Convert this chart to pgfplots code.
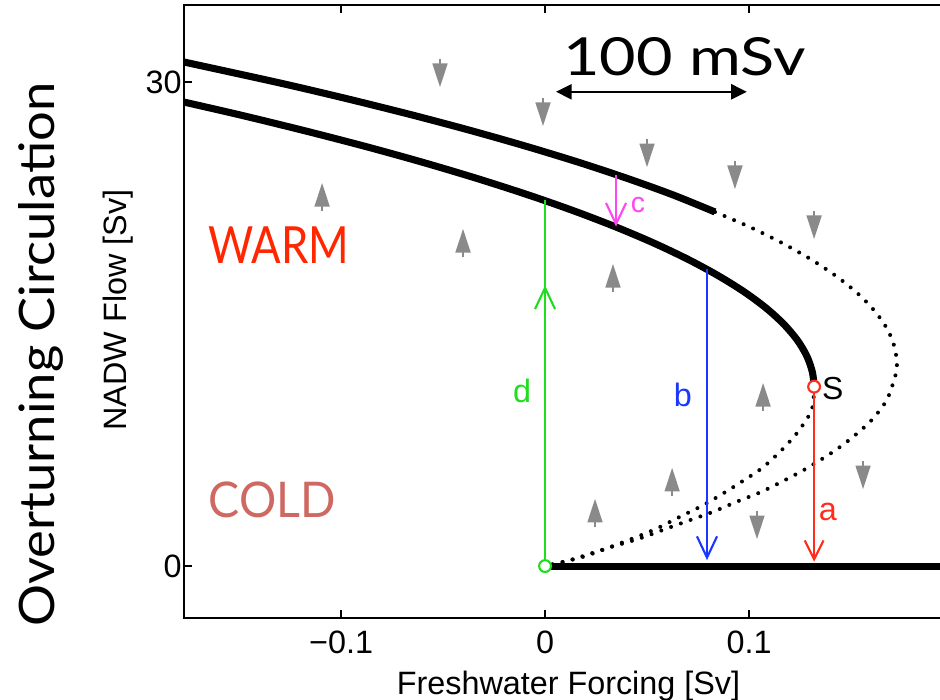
\documentclass[border=0pt]{standalone}
\usepackage{fontspec}
\setmainfont{Liberation Sans}
\newfontfamily\ovfont{Lato}
\usepackage{graphicx}
\usepackage{pgfplots}
\pgfplotsset{compat=1.18}
\usetikzlibrary{arrows.meta}
\definecolor{cgreen}{RGB}{30,222,30}
\definecolor{cblue}{RGB}{25,55,255}
\definecolor{cred}{RGB}{255,45,25}
\definecolor{cmag}{RGB}{255,70,240}
\definecolor{warmred}{RGB}{255,38,0}
\definecolor{coldred}{RGB}{207,104,98}
\definecolor{cgray}{RGB}{138,138,138}
\begin{document}
\begin{tikzpicture}
\begin{axis}[
  scale only axis, width=325.75pt, height=259.67pt,
  xmin=-0.177, xmax=0.2, ymin=-3.22, ymax=34.78,
  xtick={-0.1,0,0.1}, xticklabels={−0.1,0,0.1},
  ytick={0,30}, yticklabels={0,30},
  tick align=inside, major tick length=3.4pt,
  axis line style={line width=0.8pt},
  every tick/.style={black, line width=0.8pt},
  tick label style={font=\fontsize{13.7}{16}\selectfont},
  xticklabel style={yshift=-2pt},
  yticklabel style={xshift=2.5pt},
  xlabel={Freshwater Forcing [Sv]}, ylabel={NADW Flow [Sv]},
  label style={font=\fontsize{13.7}{16}\selectfont},
  xlabel style={at={(rel axis cs:0.5,-0.124)}, anchor=base},
  ylabel style={at={(rel axis cs:-0.0754,0.5024)}, anchor=base},
  clip mode=individual,
]
% upper branch (solid, stable)
\addplot[black, line width=3pt, smooth] coordinates {
(-0.1863,31.5) (-0.1319,30) (-0.0981,29) (-0.0663,28) (-0.0365,27) (-0.0087,26)
(0.0172,25) (0.0410,24) (0.0629,23) (0.0833,21.95)};
% lower branch (solid, stable) ending at S
\addplot[black, line width=3pt, smooth] coordinates {
(-0.1853,29) (-0.1507,28) (-0.1183,27) (-0.0877,26) (-0.0592,25) (-0.0327,24)
(-0.0081,23) (0.0145,22) (0.0351,21) (0.0537,20) (0.0703,19) (0.0849,18)
(0.0976,17) (0.1083,16) (0.1170,15) (0.1237,14) (0.1284,13) (0.1311,12) (0.1319,11.12)};
% off state
\addplot[black, line width=3pt] coordinates {(0,0) (0.2,0)};
% outer unstable branch (dotted)
\addplot[black, line width=1.7pt, dash pattern=on 0pt off 4.4pt, line cap=round, smooth] coordinates {
(0.0833,21.95) (0.1007,21) (0.1166,20) (0.1305,19) (0.1424,18) (0.1524,17) (0.1603,16)
(0.1663,15) (0.1703,14) (0.1722,13) (0.1725,12.4) (0.1716,11.74) (0.1675,10.29)
(0.1601,9.05) (0.1511,8.02) (0.1413,7.09) (0.1283,6.06) (0.1176,5.33) (0.1062,4.61)
(0.0940,3.99) (0.0825,3.37) (0.0711,2.85) (0.0597,2.33) (0.0466,1.72) (0.0302,1.10)
(0.0123,0.37) (0,0)};
% inner unstable branch (dotted)
\addplot[black, line width=1.7pt, dash pattern=on 0pt off 4.4pt, line cap=round, smooth] coordinates {
(0.1319,11.12) (0.1307,9.67) (0.1234,8.23) (0.1152,7.09) (0.1062,6.06) (0.0964,5.23)
(0.0874,4.51) (0.0776,3.78) (0.0662,3.06) (0.0531,2.23) (0.0368,1.41) (0.0188,0.58) (0,0)};
% grey direction arrows
\addplot[draw=cgray, line width=0.85pt, -{Triangle[length=10pt,width=6.3pt]},
  quiver={u=\thisrow{u}, v=\thisrow{v}}] table[x=x, y=y] {
x y u v
-0.0515 31.44 0 -1.75
-0.0010 29.03 0 -1.75
0.0500 26.48 0 -1.75
0.0931 25.12 0 -1.75
0.1319 22.02 0 -1.75
0.1039 3.42 0 -1.75
0.1559 6.52 0 -1.75
-0.1093 22.00 0 1.75
-0.0402 19.15 0 1.75
0.0333 16.98 0 1.75
0.1069 9.60 0 1.75
0.0623 4.34 0 1.75
0.0245 2.42 0 1.75
};
% transitions
\addplot[cgreen, line width=0.9pt] coordinates {(0,0) (0,22.7)};
\addplot[cgreen, line width=0.9pt, -{Straight Barb[length=9pt,width=8.5pt]}] coordinates {(0,0) (0,17.4)};
\addplot[cblue, line width=0.9pt, -{Straight Barb[length=9pt,width=8.5pt]}] coordinates {(0.0794,18.4) (0.0794,0.37)};
\addplot[cred, line width=0.9pt, -{Straight Barb[length=8pt,width=8pt]}] coordinates {(0.1319,11.12) (0.1319,0.27)};
\addplot[cmag, line width=0.9pt, -{Straight Barb[length=9pt,width=8.5pt]}] coordinates {(0.0348,24.27) (0.0348,21.04)};
\addplot[only marks, mark=*, mark size=2.5pt, mark options={fill=white, draw=cgreen, line width=0.9pt}] coordinates {(0,0)};
\addplot[only marks, mark=*, mark size=2.5pt, mark options={fill=white, draw=cred, line width=0.9pt}] coordinates {(0.1319,11.12)};
% scale bar
\addplot[black, line width=0.85pt, {Triangle[length=6.6pt,width=6.4pt]}-{Triangle[length=6.6pt,width=6.4pt]}] coordinates {(0.0054,29.4) (0.0989,29.4)};
% labels
\node[anchor=base west, inner sep=0] at (axis cs:0.0088,30.44) {\resizebox{102.5pt}{16.1pt}{\ovfont 100 mSv}};
\node[anchor=base west, inner sep=0, text=warmred] at (axis cs:-0.1653,18.77) {\resizebox{59.7pt}{15.55pt}{\ovfont WARM}};
\node[anchor=base west, inner sep=0, text=coldred] at (axis cs:-0.1652,3.0) {\resizebox{53.8pt}{15.1pt}{\ovfont COLD}};
\node[anchor=base west, inner sep=0, rotate=90] at (axis cs:-0.2407,-3.78) {\resizebox{230.4pt}{15.25pt}{\ovfont Overturning Circulation}};
\node[text=cgreen, font=\fontsize{13.7}{16}\selectfont, inner sep=0] at (axis cs:-0.0113,10.85) {d};
\node[text=cblue, font=\fontsize{13.7}{16}\selectfont, inner sep=0] at (axis cs:0.0676,10.6) {b};
\node[text=cred, font=\fontsize{13.7}{16}\selectfont, inner sep=0] at (axis cs:0.1387,3.35) {a};
\node[text=cmag, font=\fontsize{12}{14}\selectfont, inner sep=0] at (axis cs:0.0456,22.38) {c};
\node[text=black, font=\fontsize{13.5}{15}\selectfont, inner sep=0] at (axis cs:0.1410,11.0) {S};
\end{axis}
\pgfresetboundingbox
\path[use as bounding box] (current axis.south west) ++(-77.94pt,-34.31pt) rectangle ++(398.18pt,296.1pt);
\end{tikzpicture}
\end{document}
